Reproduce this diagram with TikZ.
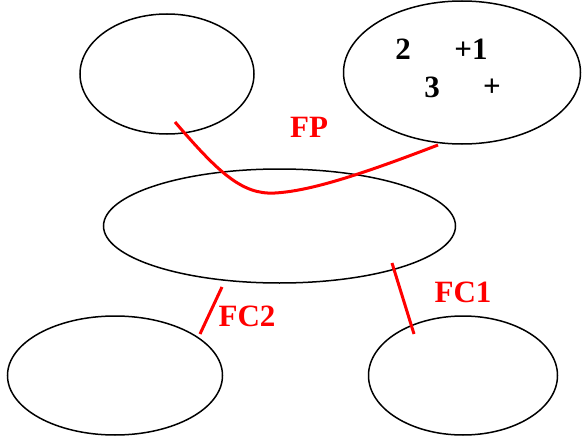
\documentclass[tikz,border=0pt]{standalone}
\usepackage{fontspec}
\setmainfont{Liberation Serif}
\usetikzlibrary{shapes.geometric}
\begin{document}
\begin{tikzpicture}[x=1pt,y=-1pt,
  blob/.style={draw=black, line width=1.5pt, ellipse, inner sep=0pt, fill=none},
  cut/.style={draw=red, line width=3pt},
  cutlabel/.style={text=red, font=\fontsize{31}{33}\selectfont\bfseries, inner sep=0pt},
  num/.style={text=black, font=\fontsize{31}{33}\selectfont\bfseries, inner sep=0pt}]
\useasboundingbox (0,0) rectangle (582,439);
\node[blob, minimum width=174pt, minimum height=120pt] (tl) at (167,74) {};
\node[blob, minimum width=237pt, minimum height=143pt] (tr) at (462,72.5) {};
\node[blob, minimum width=352pt, minimum height=114pt] (mid) at (279.5,226) {};
\node[blob, minimum width=215pt, minimum height=119pt] (bl) at (115,375.5) {};
\node[blob, minimum width=189pt, minimum height=119pt] (br) at (463,375.5) {};
\node[num] (n2) at (403,49) {2};
\node[num] (n1) at (471,49) {+1};
\node[num] (n3) at (432,87) {3};
\node[num] (np) at (492,88) {+};
\coordinate (fpa) at (175,122);
\coordinate (fpm) at (275,193);
\coordinate (fpb) at (438,145);
\draw[cut] (fpa) .. controls (218,172) and (242,195) .. (fpm) .. controls (310,191) and (360,175) .. (fpb);
\node[cutlabel] (fp) at (309,127) {FP};
\coordinate (c1a) at (392,263);
\coordinate (c1b) at (414,334);
\draw[cut] (c1a) -- (c1b);
\node[cutlabel] (fc1) at (463,292) {FC1};
\coordinate (c2a) at (222,287);
\coordinate (c2b) at (200,334);
\draw[cut] (c2a) -- (c2b);
\node[cutlabel] (fc2) at (247,316) {FC2};
\end{tikzpicture}
\end{document}
